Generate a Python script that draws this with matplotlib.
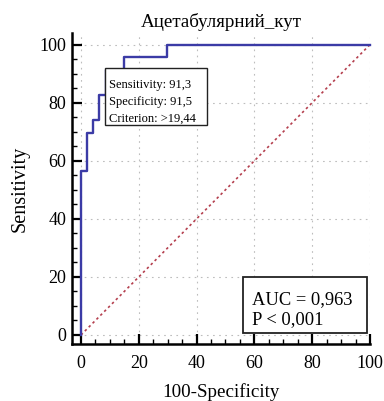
import matplotlib
matplotlib.use("Agg")
import matplotlib.pyplot as plt
from matplotlib.patches import Rectangle
from matplotlib.ticker import MultipleLocator

# ROC curve points (100-Specificity, Sensitivity), in percent
fpr = [0, 0, 2.13, 4.26, 6.38, 8.51, 14.89, 29.79, 100]
tpr = [0, 56.5, 69.6, 73.9, 82.6, 91.3, 95.7, 100, 100]

title = "Ацетабулярний_кут"
criterion_lines = ["Sensitivity: 91,3", "Specificity: 91,5", "Criterion: >19,44"]
summary_lines = ["AUC = 0,963", "P < 0,001"]
major_ticks = [0, 20, 40, 60, 80, 100]

plt.rcParams["font.family"] = ["Liberation Serif", "DejaVu Serif"]

fig = plt.figure(figsize=(3.84, 4.01), dpi=100)
ax = fig.add_axes([72 / 384, 1 - 344 / 401, (370 - 72) / 384, (344 - 33) / 401])

ax.set_xlim(-3.1, 100)
ax.set_ylim(-3.1, 104)

# grid
for v in major_ticks:
    ax.axvline(v, color="#bdbdbd", lw=0.8, ls=(0, (1.5, 4)), zorder=0)
    ax.axhline(v, color="#bdbdbd", lw=0.8, ls=(0, (1.5, 4)), zorder=0)

# reference diagonal
ax.plot([0, 100], [0, 100], color="#b5404f", lw=1.2, ls=(0, (1.5, 1.8)),
        zorder=2, clip_on=False)

# ROC step curve
ax.step(fpr, tpr, where="post", color="#3b3ba6", lw=1.7, zorder=3, clip_on=False)

# spines & ticks
for s in ("top", "right"):
    ax.spines[s].set_visible(False)
for s in ("left", "bottom"):
    ax.spines[s].set_linewidth(1.8)
ax.set_xticks(major_ticks)
ax.set_yticks(major_ticks)
ax.xaxis.set_minor_locator(MultipleLocator(5))
ax.yaxis.set_minor_locator(MultipleLocator(5))
ax.tick_params(which="major", direction="in", length=7, width=1.6, labelsize=13, pad=4)
ax.tick_params(which="minor", direction="in", length=3.5, width=1.0)
ax.tick_params(axis="x", which="major", pad=8)

ax.set_title(title, fontsize=13.7, pad=4)
ax.set_xlabel("100-Specificity", fontsize=13.7, labelpad=8)
ax.set_ylabel("Sensitivity", fontsize=14.5, labelpad=7)

# criterion annotation box
ax.add_patch(Rectangle((8.3, 72.2), 35.3, 19.6, fc="white", ec="#222222",
                       lw=1.0, zorder=5))
for i, line in enumerate(criterion_lines):
    ax.text(9.7, 85.1 - 5.9 * i, line, fontsize=9, ha="left", va="baseline", zorder=6)

# AUC summary box
ax.add_patch(Rectangle((56.0, 0.7), 43.0, 19.3, fc="white", ec="#222222",
                       lw=1.3, zorder=5, clip_on=False))
for i, line in enumerate(summary_lines):
    ax.text(59.2, 10.6 - 6.9 * i, line, fontsize=13.3, ha="left", va="baseline", zorder=6)

fig.savefig("out.png", dpi=100)
